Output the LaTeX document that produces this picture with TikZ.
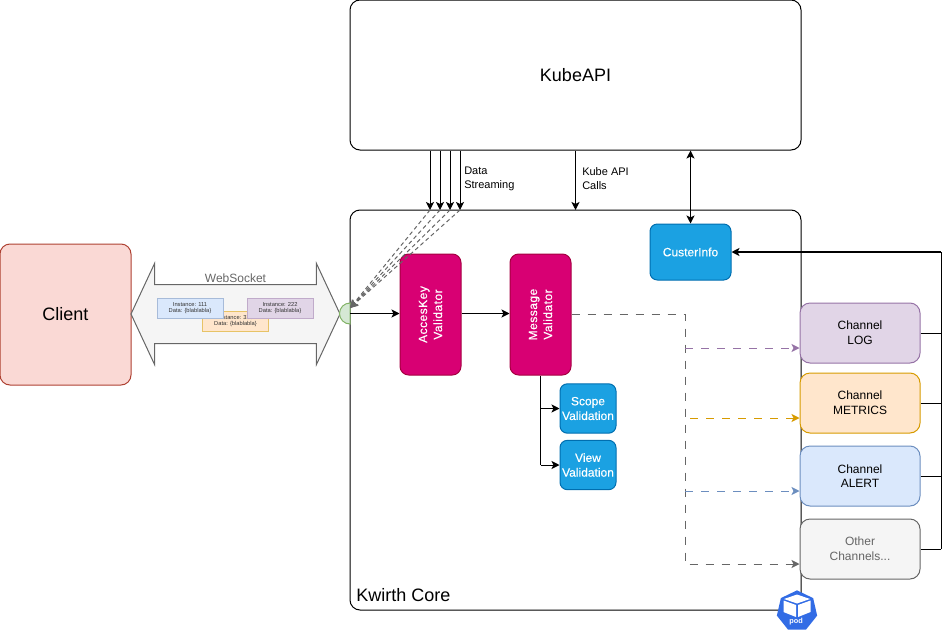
\documentclass[tikz,border=0pt]{standalone}
\usepackage{fontspec}
\setmainfont{Liberation Sans}
\usepackage{xcolor}
\usepackage{tikz}
\usetikzlibrary{positioning, calc, arrows.meta, shapes.arrows, shapes.geometric}

\definecolor{clientfill}{HTML}{FAD9D5}
\definecolor{clientline}{HTML}{AE4132}
\definecolor{logfill}{HTML}{E1D5E7}
\definecolor{logline}{HTML}{9673A6}
\definecolor{metfill}{HTML}{FFE6CC}
\definecolor{metline}{HTML}{D79B00}
\definecolor{alertfill}{HTML}{DAE8FC}
\definecolor{alertline}{HTML}{6C8EBF}
\definecolor{otherfill}{HTML}{F5F5F5}
\definecolor{otherline}{HTML}{666666}
\definecolor{portfill}{HTML}{D5E8D4}
\definecolor{portline}{HTML}{82B366}
\definecolor{valfill}{HTML}{D80073}
\definecolor{valline}{HTML}{A50040}
\definecolor{subfill}{HTML}{1BA1E2}
\definecolor{subline}{HTML}{006EAF}
\definecolor{podblue}{HTML}{326CE5}

\tikzset{
    box/.style = {draw, rectangle, rounded corners = 7.5pt, line width = 0.75pt,
        inner sep = 0pt, align = center, font = \fontsize{9}{11}\selectfont},
    validator/.style = {box, fill = valfill, draw = valline, text = white,
        minimum width = 90.75pt, minimum height = 45.75pt, rounded corners = 6.5pt,
        font = \fontsize{9}{11.25}\selectfont\addfontfeature{FakeBold=0.25, LetterSpace=4}},
    subcheck/.style = {box, fill = subfill, draw = subline, text = white,
        rounded corners = 5.5pt, font = \fontsize{9}{11}\selectfont\addfontfeature{FakeBold=0.25}},
    channel/.style = {box, minimum width = 90pt, minimum height = 45pt},
    instance/.style = {draw, rectangle, line width = 0.75pt, inner sep = 0pt,
        minimum width = 49.5pt, minimum height = 15pt, align = center, text = black!80,
        font = \fontsize{4.3}{4.6}\selectfont},
    flow/.style = {-{Stealth[length = 6pt, width = 6pt, inset = 1.5pt]}, line width = 0.75pt},
    bothflow/.style = {{Stealth[length = 6pt, width = 6pt, inset = 1.5pt]}-{Stealth[length = 6pt, width = 6pt, inset = 1.5pt]}, line width = 0.75pt},
    dashflow/.style = {flow, dash pattern = on 6pt off 6pt},
    note/.style = {align = left, inner sep = 0pt, font = \fontsize{8.25}{10.5}\selectfont}
}

\begin{document}
\begin{tikzpicture}[x = 0.75pt, y = -0.75pt]
    \useasboundingbox (0,0) rectangle (949,632);

    \node (kube) [box, minimum width = 338.25pt, minimum height = 112.5pt, font = \fontsize{13.5}{16}\selectfont] at (575.5,75) {KubeAPI};
    \node (core) [box, minimum width = 338.25pt, minimum height = 300pt] at (575.5,410) {};
    \node (corelabel) [anchor = west, inner sep = 0pt, font = \fontsize{13.5}{16}\selectfont] at (356,595) {Kwirth Core};
    \node (client) [box, fill = clientfill, draw = clientline, minimum width = 98.25pt, minimum height = 105.75pt, font = \fontsize{13.5}{16}\selectfont] at (65.5,314.5) {Client};

    % websocket pipe
    \node (pipe) [draw = otherline, fill = otherfill, double arrow, line width = 0.75pt, inner sep = 0pt, minimum height = 156.75pt, double arrow head extend = 15.75pt, double arrow tip angle = 130] at (235.5,314) {\rule{0pt}{43.5pt}};
    \node (pipelabel) [inner sep = 0pt, text = otherline, font = \fontsize{9}{11}\selectfont] at (235.5,278) {WebSocket};
    \node (inst3) [instance, fill = metfill, draw = metline!60] at (235.5,321.5) {Instance: 333\\Data: \{blablabla\}};
    \node (inst1) [instance, fill = alertfill, draw = alertline!60] at (190,308) {Instance: 111\\Data: \{blablabla\}};
    \node (inst2) [instance, fill = logfill, draw = logline!60] at (280,308) {Instance: 222\\Data: \{blablabla\}};

    \coordinate (port) at (350,313.5);
    \draw [fill = portfill, draw = portline, line width = 0.75pt] (350,324) arc (90:270:10.5) -- cycle;

    \node (acckey) [validator, rotate = 90] at (430.5,314.5) {AccesKey\\Validator};
    \node (msgval) [validator, rotate = 90] at (540.5,314.5) {Message\\Validator};
    \node (scope) [subcheck, minimum width = 42pt, minimum height = 37pt] at (588,408.5) {Scope\\Validation};
    \node (view) [subcheck, minimum width = 42pt, minimum height = 37pt] at (588,465) {View\\Validation};
    \node (cluster) [subcheck, minimum width = 60.75pt, minimum height = 42pt] at (690.5,252) {CusterInfo};

    \node (chlog) [channel, fill = logfill, draw = logline] at (860,333) {Channel\\LOG};
    \node (chmet) [channel, fill = metfill, draw = metline] at (860,403) {Channel\\METRICS};
    \node (chalert) [channel, fill = alertfill, draw = alertline] at (860,476) {Channel\\ALERT};
    \node (chother) [channel, fill = otherfill, draw = otherline, text = otherline] at (860,549) {Other\\Channels...};

    % data streaming
    \coordinate (data1) at (430,210);
    \coordinate (data2) at (440,210);
    \coordinate (data3) at (450,210);
    \coordinate (data4) at (460,210);
    \foreach \n in {1,2,3,4} {
        \draw [flow] (kube.south -| data\n) -- (data\n);
        \draw [dashflow, otherline, dash pattern = on 3pt off 2.25pt] (data\n) -- (port |- 0,308);
    }
    \node (datalabel) [note, anchor = north west] at (464,167) {Data\\Streaming};

    % kube calls
    \coordinate (calls) at (575.5,210);
    \draw [flow] (kube.south -| calls) -- (calls);
    \node (callslabel) [note, anchor = north west] at (582,167) {Kube API\\Calls};
    \draw [bothflow] (kube.south -| cluster) -- (cluster.north);

    % request path
    \draw [flow] (port) -- (acckey.north |- port);
    \draw [flow] (acckey.south |- port) -- (msgval.north |- port);
    \draw [line width = 0.75pt] (msgval.west) -- (msgval.west |- view);
    \draw [flow] (msgval.west |- scope) -- (scope.west);
    \draw [flow] (msgval.west |- view) -- (view.west);

    % dispatch to channels
    \coordinate (bus) at (685,314);
    \coordinate (busend) at (685,564);
    \draw [dashflow, otherline] (msgval.south |- bus) -- (bus) -- (busend) -- (chother.west |- busend);
    \draw [dashflow, logline] (685,348) -- (chlog.west |- 0,348);
    \draw [dashflow, metline] (690,418) -- (chmet.west |- 0,418);
    \draw [dashflow, alertline] (685,491) -- (chalert.west |- 0,491);

    % channels report to cluster info
    \coordinate (rail) at (941,252);
    \draw [flow, line width = 1.1pt] (rail) -- (cluster.east);
    \draw [line width = 0.75pt] (rail) -- (rail |- chother);
    \foreach \c in {chlog, chmet, chalert, chother} {
        \draw [line width = 0.75pt] (\c.east) -- (rail |- \c);
    }

    % pod badge
    \node (pod) [regular polygon, regular polygon sides = 7, fill = podblue, inner sep = 0pt, minimum size = 31pt] at (797,611) {};
    \fill [white] (797,594.5) -- (810,599) -- (797,603.5) -- (784,599) -- cycle;
    \fill [white] (783.5,600.5) -- (796,605) -- (796,617) -- (783.5,612) -- cycle;
    \fill [white] (810.5,600.5) -- (798,605) -- (798,617) -- (810.5,612) -- cycle;
    \node (podlabel) [inner sep = 0pt, text = white, font = \fontsize{5.5}{6}\selectfont\bfseries] at (796,622) {pod};
\end{tikzpicture}
\end{document}
